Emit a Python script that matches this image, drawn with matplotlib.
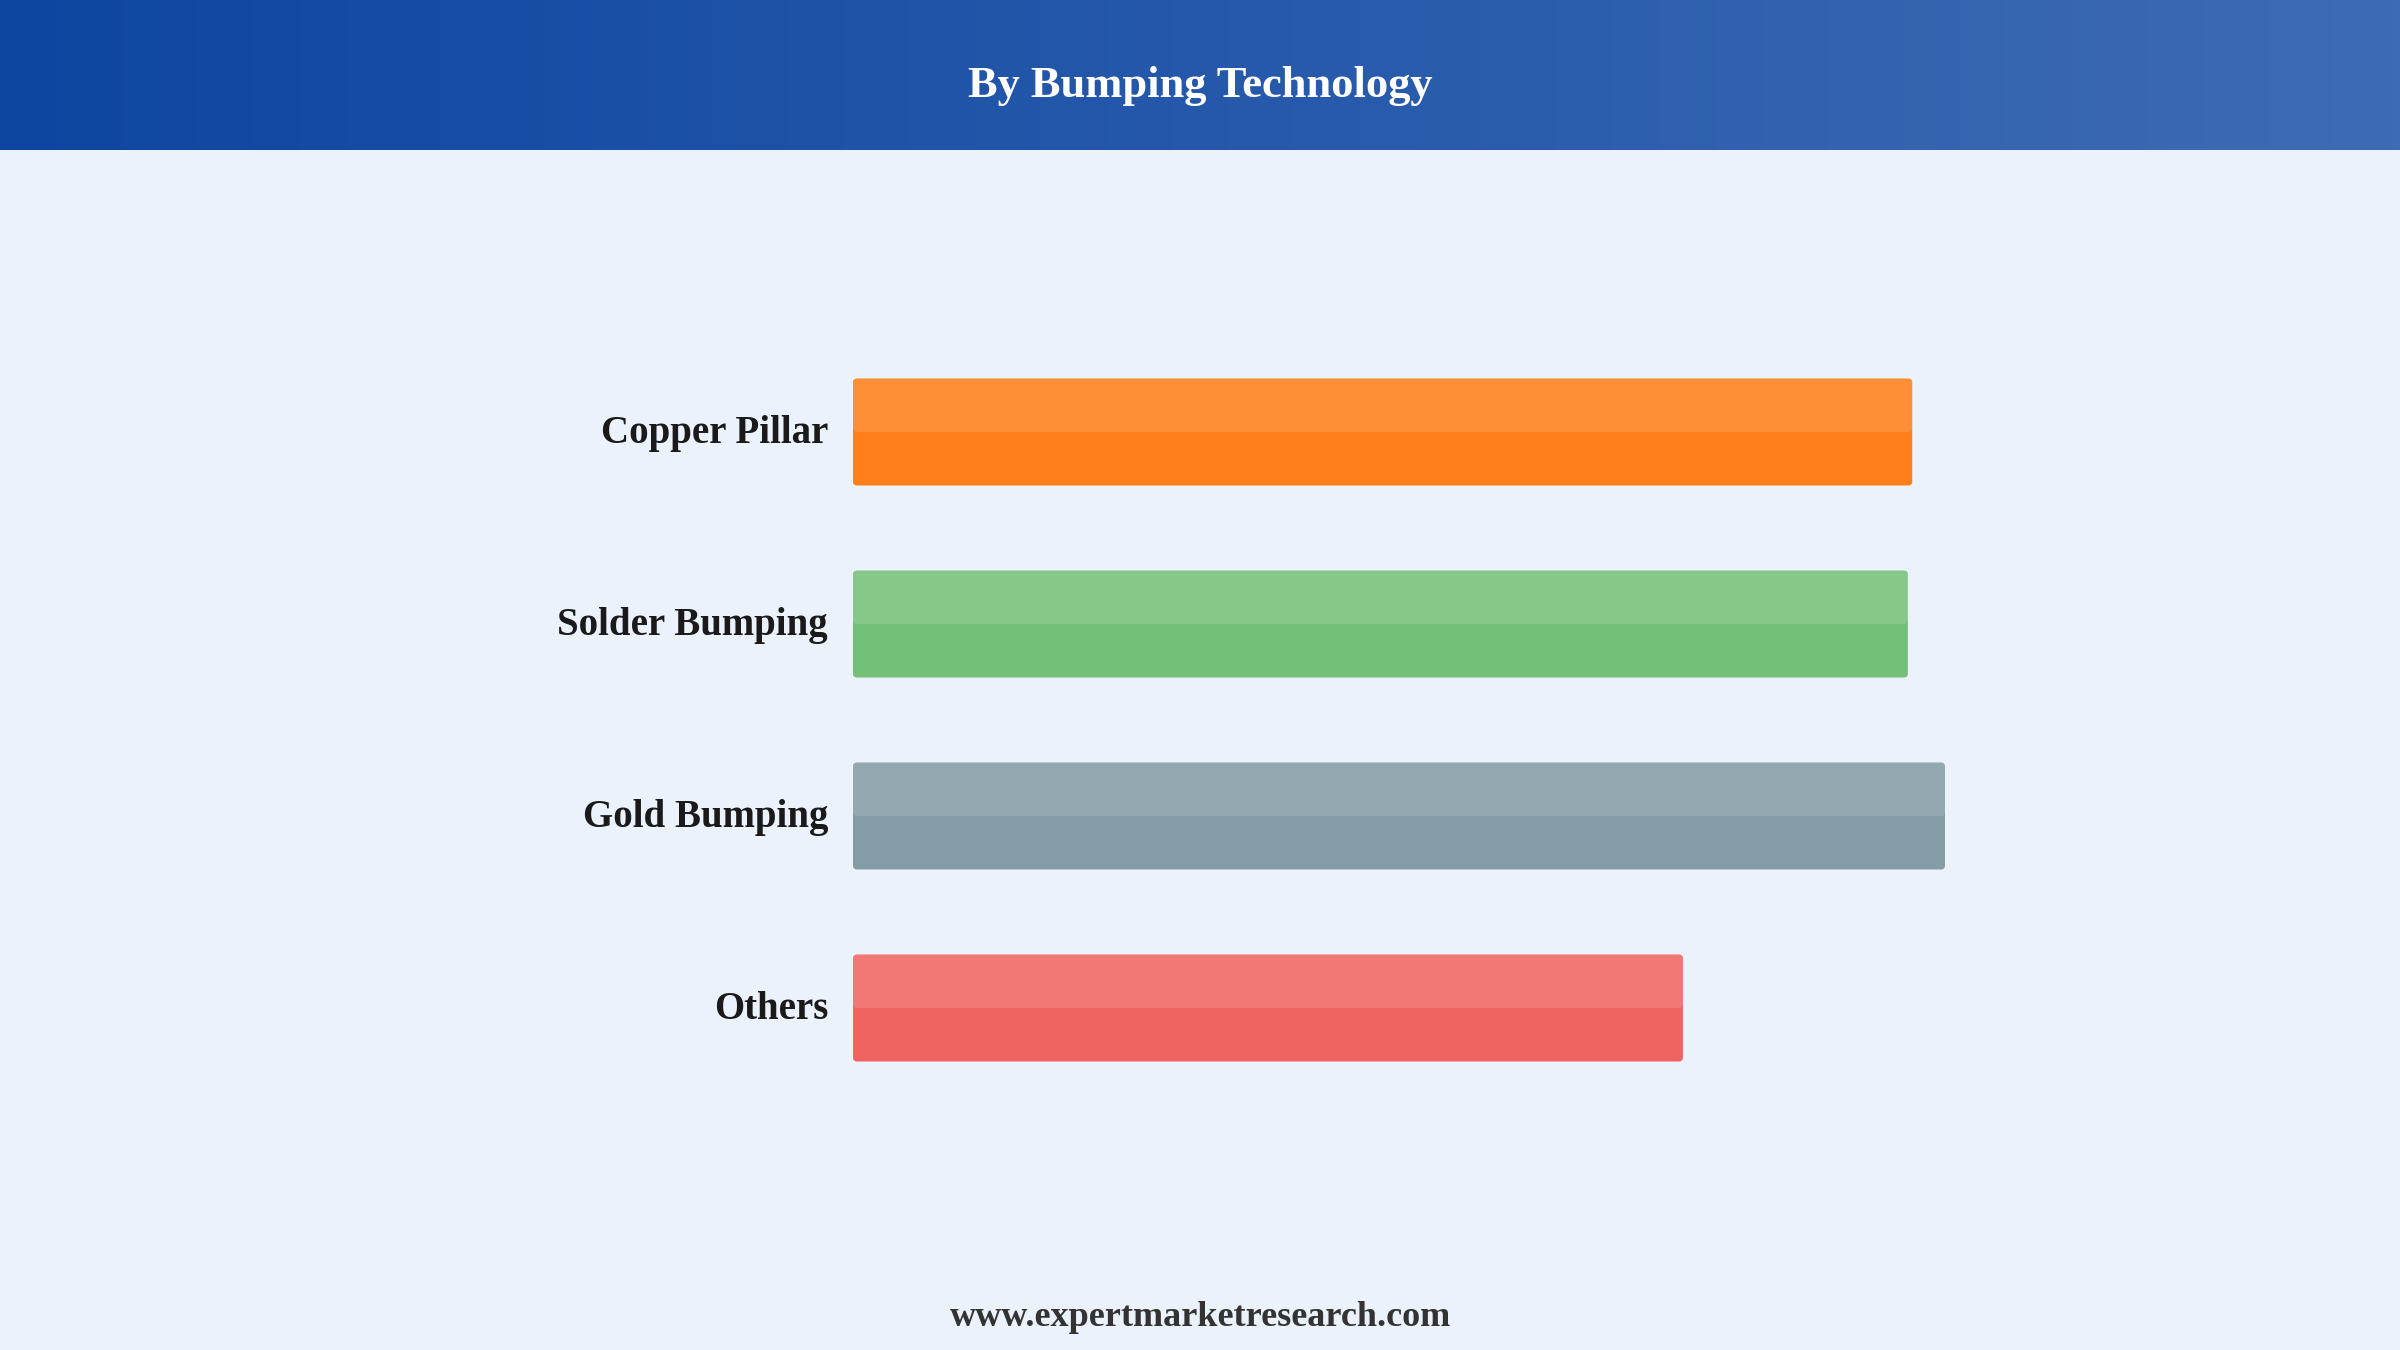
import numpy as np
import matplotlib.pyplot as plt
import matplotlib.transforms as mtransforms
from matplotlib.patches import FancyBboxPatch

# 数据
categories = ["Copper Pillar", "Solder Bumping", "Gold Bumping", "Others"]
values = [97.0, 96.6, 100.0, 76.0]
bar_colors = ["#ff7f1a", "#73c079", "#849ca6", "#ef6461"]

title = "By Bumping Technology"
footer = "www.expertmarketresearch.com"

plt.rcParams['font.family'] = ['Liberation Serif', 'DejaVu Serif']

fig = plt.figure(figsize=(12, 6.75), dpi=200)
fig.patch.set_facecolor("#ebf2fc")

# 顶部渐变标题栏
hdr = fig.add_axes([0, 1 - 150 / 1350, 1, 150 / 1350])
c0 = np.array([13, 70, 160]) / 255
c1 = np.array([62, 107, 181]) / 255
t = np.linspace(0, 1, 256)[None, :, None]
grad = c0 + (c1 - c0) * t
hdr.imshow(grad, aspect='auto', extent=[0, 1, 0, 1])
hdr.set_axis_off()
fig.text(0.5, 1 - 86 / 1350, title, ha='center', va='center',
         fontsize=16, fontweight='bold', color='white')

# 条形图
ax = fig.add_axes([853 / 2400, 1 - 1104 / 1350, 1092 / 2400, 768 / 1350])
ax.set_facecolor("none")
y = np.arange(len(categories))
h = 107 / 192
bars = ax.barh(y, values, height=h, color=bar_colors)
ax.set_xlim(0, max(values))
ax.set_ylim(len(categories) - 0.5, -0.5)

# 圆角 + 上半部高光
px_x = max(values) / 1092
px_y = 1 / 192
r = 4 * px_x
asp = px_y / px_x
for b, col in zip(bars, bar_colors):
    x0, y0, w, hh = b.get_x(), b.get_y(), b.get_width(), b.get_height()
    b.set_visible(False)
    ax.add_patch(FancyBboxPatch((x0, y0), w, hh,
                                boxstyle=f"round,pad=0,rounding_size={r}",
                                mutation_aspect=asp, fc=col, ec='none'))
    ax.add_patch(FancyBboxPatch((x0, y0), w, hh / 2,
                                boxstyle=f"round,pad=0,rounding_size={r}",
                                mutation_aspect=asp, fc='white', alpha=0.13,
                                ec='none'))

ax.set_yticks(y)
ax.set_yticklabels(categories, fontsize=14, fontweight='bold', color='#1a1a1a')
ax.tick_params(axis='y', length=0, pad=9)
# 标签稍微上移一点
shift = mtransforms.ScaledTranslation(0, 1.1 / 72, fig.dpi_scale_trans)
for lab in ax.get_yticklabels():
    lab.set_transform(lab.get_transform() + shift)
ax.set_xticks([])
for s in ax.spines.values():
    s.set_visible(False)

fig.text(0.5, 1 - 1318 / 1350, footer, ha='center', va='center',
         fontsize=13, fontweight='bold', color='#333333')

fig.savefig("out.png", dpi=200, facecolor=fig.get_facecolor())
